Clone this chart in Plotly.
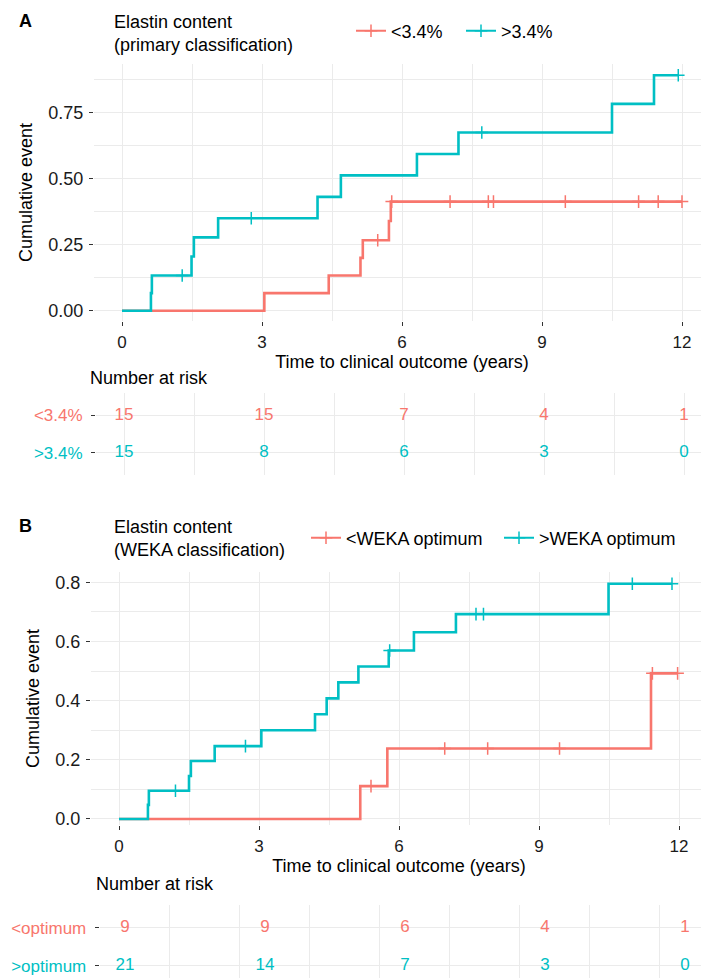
import plotly.graph_objects as go

RED = "#F8766D"
TEAL = "#00BFC4"
FONT = "Liberation Sans"

# ---------------- data ----------------
# Panel A: primary classification
a_low_event = [3.05, 4.43, 5.11, 5.16, 5.72, 5.76]
a_low_censor = [5.48, 5.78, 7.03, 7.85, 7.96, 9.5, 11.07, 11.49, 12.0]
a_high_event = [0.62, 0.64, 1.49, 1.54, 2.06, 4.19, 4.69, 6.32, 7.21, 10.5, 11.4]
a_high_censor = [1.29, 2.77, 7.71, 11.92]
a_names = ["&lt;3.4%", "&gt;3.4%"]

# Panel B: WEKA classification
b_low_event = [5.17, 5.75, 11.4]
b_low_censor = [5.4, 6.98, 7.9, 9.44, 11.43, 11.97]
b_high_event = [0.62, 0.64, 1.5, 1.54, 2.05, 3.05, 4.2, 4.45, 4.7, 5.13, 5.78,
                6.32, 7.22, 10.49]
b_high_censor = [1.21, 2.71, 5.8, 7.65, 7.81, 11.0, 11.85]
b_names = ["&lt;WEKA optimum", "&gt;WEKA optimum"]
b_row_labels = ["&lt;optimum", "&gt;optimum"]

# Number at risk
risk_times = [0, 3, 6, 9, 12]
a_risk_low = [15, 15, 7, 4, 1]
a_risk_high = [15, 8, 6, 3, 0]
b_risk_low = [9, 9, 6, 4, 1]
b_risk_high = [21, 14, 7, 3, 0]

x_ticks = [0, 3, 6, 9, 12]
a_y_ticks = [0, 0.25, 0.5, 0.75]
b_y_ticks = [0, 0.2, 0.4, 0.6, 0.8]


def km(events, censors):
    """Kaplan-Meier cumulative event curve (1 - S)."""
    obs = sorted([(t, 1) for t in events] + [(t, 0) for t in censors])
    at_risk = len(obs)
    s = 1.0
    xs, ys, cx, cy = [0.0], [0.0], [], []
    for t, e in obs:
        if e:
            s *= (at_risk - 1) / at_risk
        xs.append(t)
        ys.append(1 - s)
        if not e:
            cx.append(t)
            cy.append(1 - s)
        at_risk -= 1
    return xs, ys, cx, cy


fig = go.Figure()


def add_panel(low, high, names, xa, ya, legend):
    curves = [(km(*low), RED, names[0]), (km(*high), TEAL, names[1])]
    for (xs, ys, cx, cy), col, nm in curves:
        fig.add_trace(go.Scatter(x=xs, y=ys, mode="lines", line=dict(color=col, width=2.6, shape="hv"),
                                 xaxis=xa, yaxis=ya, showlegend=False, hoverinfo="skip"))
    for (xs, ys, cx, cy), col, nm in curves:
        fig.add_trace(go.Scatter(x=cx, y=cy, mode="markers",
                                 marker=dict(symbol="cross-thin", size=9, line=dict(color=col, width=1.5)),
                                 xaxis=xa, yaxis=ya, showlegend=False, hoverinfo="skip"))
    for (xs, ys, cx, cy), col, nm in curves:
        fig.add_trace(go.Scatter(x=[None], y=[None], mode="lines+markers", name=nm,
                                 line=dict(color=col, width=2),
                                 marker=dict(symbol="cross-thin", size=9, line=dict(color=col, width=1.5)),
                                 xaxis=xa, yaxis=ya, legend=legend))


add_panel((a_low_event, a_low_censor), (a_high_event, a_high_censor), a_names, "x", "y", "legend")
add_panel((b_low_event, b_low_censor), (b_high_event, b_high_censor), b_names, "x3", "y3", "legend2")


def add_table(low, high, xa, ya):
    for vals, col, row in [(low, RED, 2), (high, TEAL, 1)]:
        fig.add_trace(go.Scatter(x=risk_times, y=[row] * len(risk_times), mode="text",
                                 text=[str(v) for v in vals],
                                 textfont=dict(color=col, size=17, family=FONT),
                                 xaxis=xa, yaxis=ya, showlegend=False, hoverinfo="skip"))


add_table(a_risk_low, a_risk_high, "x2", "y2")
add_table(b_risk_low, b_risk_high, "x4", "y4")

W, H = 709, 978


def xd(a, b):
    return [a / W, b / W]


def yd(top, bottom):
    return [1 - bottom / H, 1 - top / H]


GRID = "#EBEBEB"
XTICKF = dict(size=17, color="#1a1a1a", family=FONT)
YTICKF = dict(size=18, color="#1a1a1a", family=FONT)
TITLEF = dict(size=18, color="black", family=FONT)

plot_x = dict(range=[-0.6, 12.6], tickvals=x_ticks, ticks="outside", ticklen=4, tickcolor="#333",
              tickfont=XTICKF, showgrid=True, gridcolor=GRID, gridwidth=1.1, zeroline=False,
              showline=False, automargin=False, ticklabelstandoff=2,
              minor=dict(dtick=1.5, tick0=0, showgrid=True, gridcolor=GRID, gridwidth=0.6),
              title=dict(text="Time to clinical outcome (years)", font=TITLEF, standoff=2))


def plot_y(rng, ticks, fmt, dminor):
    return dict(range=rng, tickvals=ticks, tickformat=fmt, ticks="outside", ticklen=4, tickcolor="#333",
                tickfont=YTICKF, showgrid=True, gridcolor=GRID, gridwidth=1.1, zeroline=False,
                showline=False, automargin=False, ticklabelstandoff=2,
                minor=dict(dtick=dminor, tick0=0, showgrid=True, gridcolor=GRID, gridwidth=0.6),
                title=dict(text="Cumulative event", font=TITLEF, standoff=11))


def table_y(labels, rng):
    return dict(range=rng, tickvals=[2, 1],
                ticktext=[f'<span style="color:{RED}">{labels[0]}</span>',
                          f'<span style="color:{TEAL}">{labels[1]}</span>'],
                ticks="outside", ticklen=4, tickcolor="#333", tickfont=dict(size=17, family=FONT),
                ticklabelstandoff=5,
                showgrid=True, gridcolor=GRID, gridwidth=1.1, zeroline=False, showline=False,
                automargin=False)


fig.update_layout(
    width=W, height=H, margin=dict(l=0, r=0, t=0, b=0),
    paper_bgcolor="white", plot_bgcolor="white",
    font=dict(family=FONT, size=17, color="black"),
    xaxis=dict(domain=xd(86, 702), anchor="y", **plot_x),
    yaxis=dict(domain=yd(56, 313), anchor="x", **plot_y([-0.039, 0.9345], a_y_ticks, ".2f", 0.125)),
    xaxis2=dict(domain=xd(88, 704), anchor="y2", range=[-0.6, 12.6], showticklabels=False, ticks="",
                showgrid=True, gridcolor=GRID, gridwidth=1.1, dtick=3, tick0=0, zeroline=False,
                minor=dict(dtick=1.5, tick0=0, showgrid=True, gridcolor=GRID, gridwidth=0.6)),
    yaxis2=dict(domain=yd(385, 467), anchor="x2", **table_y(a_names, [0.4, 2.6])),
    xaxis3=dict(domain=xd(83, 699), anchor="y3", **plot_x),
    yaxis3=dict(domain=yd(564, 817), anchor="x3", **plot_y([-0.0203, 0.8345], b_y_ticks, ".1f", 0.1)),
    xaxis4=dict(domain=xd(91.7, 705), anchor="y4", range=[-0.54, 12.6], showticklabels=False, ticks="",
                showgrid=True, gridcolor=GRID, gridwidth=1.0, dtick=1.5, tick0=0.96, zeroline=False),
    yaxis4=dict(domain=yd(897, 978), anchor="x4", **table_y(b_row_labels, [0.47, 2.6])),
    legend=dict(orientation="h", x=343 / W, xanchor="left", y=1 - 23 / H, yanchor="middle",
                font=dict(size=18, family=FONT), entrywidth=65, itemwidth=30,
                bgcolor="rgba(0,0,0,0)"),
    legend2=dict(orientation="h", x=298 / W, xanchor="left", y=1 - 530 / H, yanchor="middle",
                 font=dict(size=18, family=FONT), entrywidth=148, itemwidth=30,
                 bgcolor="rgba(0,0,0,0)"),
)

ann = [
    ("<b>A</b>", 9, 13),
    ("Elastin content<br>(primary classification)", 104, 25.5),
    ("Number at risk", 80, 370),
    ("<b>B</b>", 9, 518),
    ("Elastin content<br>(WEKA classification)", 104, 530.5),
    ("Number at risk", 86, 876),
]
for txt, x, y in ann:
    fig.add_annotation(text=txt, x=x / W, y=1 - y / H, xref="paper", yref="paper",
                       xanchor="left", yanchor="middle", align="left", showarrow=False,
                       font=dict(size=18, family=FONT, color="black"))

fig.write_html("out.html")
